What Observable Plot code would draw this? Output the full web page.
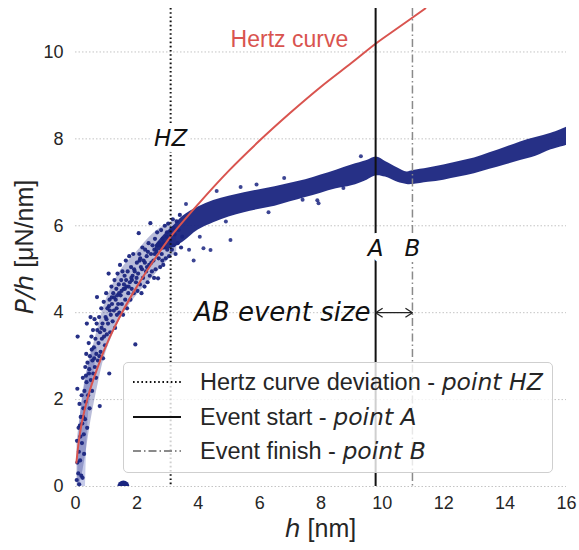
<!DOCTYPE html>
<html><head><meta charset="utf-8">
<script src="https://cdn.jsdelivr.net/npm/d3@7"></script>
<script src="https://cdn.jsdelivr.net/npm/@observablehq/plot@0.6"></script>
<style>
body{margin:0;background:#fff;}
#wrap{position:relative;width:579px;height:550px;}
#legend{position:absolute;left:123px;top:362px;width:430px;height:111px;border:1px solid #cfcfcf;border-radius:5px;background:rgba(255,255,255,0.8);font-family:"Liberation Sans",Arial,sans-serif;font-size:23.5px;color:#262626;box-sizing:border-box;}
.row{position:absolute;left:0;height:30px;display:flex;align-items:center;white-space:nowrap;}
.row svg{margin-left:9px;width:48px;height:10px;flex:none;}
.row span{margin-left:19px;}
.it{font-family:"DejaVu Sans";font-style:italic;}
</style></head><body><div id="wrap"></div>
<script>
// ---- data ----
const xTicks = [0, 2, 4, 6, 8, 10, 12, 14, 16];
const yTicks = [0, 2, 4, 6, 8, 10];

// Hertz curve (P/h vs h)
const hertzH = [0.03, 0.1, 0.2, 0.4, 0.7, 1, 1.5, 2, 2.5, 3.1, 4, 5, 6, 7, 8, 9, 9.8, 10.5, 11.4];
const hertzV = [0.55, 1.0, 1.45, 2.05, 2.7, 3.25, 3.98, 4.6, 5.15, 5.75, 6.5, 7.27, 7.96, 8.6, 9.2, 9.75, 10.2, 10.55, 11.0];

// dense measurement band (lower / upper edge)
const bandH  = [2.6, 2.9, 3.2, 3.5, 4.0, 4.5, 5.0, 5.5, 6.0, 6.5, 7.0, 7.5, 8.0, 8.5, 9.0, 9.5, 9.8, 10.1, 10.5, 10.8, 11.0, 11.5, 12.0, 12.5, 13.0, 13.5, 14.0, 14.5, 15.0, 15.5, 16.0];
const bandLo = [5.4, 5.45, 5.5, 5.62, 5.9, 6.07, 6.2, 6.3, 6.38, 6.45, 6.55, 6.65, 6.75, 6.85, 6.92, 7.05, 7.15, 7.12, 7.0, 6.95, 6.95, 7.0, 7.05, 7.12, 7.2, 7.3, 7.4, 7.5, 7.6, 7.75, 7.85];
const bandHi = [5.55, 5.8, 6.0, 6.22, 6.43, 6.58, 6.68, 6.76, 6.83, 6.9, 6.98, 7.06, 7.17, 7.28, 7.4, 7.5, 7.58, 7.48, 7.33, 7.24, 7.27, 7.33, 7.4, 7.48, 7.56, 7.68, 7.8, 7.93, 8.03, 8.13, 8.27];

// sparse early band
const sparseH  = [0.05, 0.15, 0.3, 0.5, 0.75, 1, 1.5, 2, 2.5, 3.0, 3.3];
const sparseLo = [0, 0.1, 0.6, 1.5, 2.4, 3.1, 3.9, 4.4, 4.8, 5.2, 5.4];
const sparseHi = [1.0, 1.6, 2.4, 3.0, 3.7, 4.3, 5.0, 5.4, 5.8, 6.05, 6.15];

// light confidence strip near the origin
const stripV  = [0, 1.6, 3.2];
const stripH1 = [0.07, 0.16, 0.52];
const stripH2 = [0.33, 0.42, 0.72];

// individual scatter points in the sparse region
const dotH = [0.04,0.06,0.05,0.07,0.06,0.09,0.11,0.1,0.13,0.12,0.15,0.16,0.17,0.19,0.2,0.21,0.22,0.23,0.24,0.26,0.27,0.28,0.29,0.31,0.32,0.33,0.35,0.36,0.37,0.38,0.39,0.41,0.43,0.44,0.46,0.47,0.49,0.5,0.52,0.54,0.55,0.57,0.58,0.6,0.62,0.63,0.65,0.67,0.68,0.7,0.71,0.73,0.75,0.77,0.79,0.8,0.82,0.84,0.86,0.88,0.9,0.92,0.94,0.96,0.98,1.0,1.02,1.04,1.06,1.08,1.1,1.11,1.13,1.15,1.17,1.19,1.21,1.23,1.25,1.27,1.29,1.31,1.33,1.35,1.37,1.39,1.41,1.43,1.45,1.47,1.49,1.51,1.53,1.55,1.57,1.6,1.62,1.64,1.66,1.68,1.7,1.72,1.75,1.77,1.79,1.81,1.83,1.86,1.88,1.9,1.93,1.95,1.97,2.0,2.02,2.04,2.06,2.08,2.1,2.13,2.15,2.18,2.2,2.22,2.25,2.27,2.3,2.32,2.35,2.38,2.4,2.42,2.44,2.46,2.49,2.51,2.54,2.56,2.59,2.61,2.64,2.66,2.69,2.71,2.74,2.76,2.79,2.81,2.84,2.86,2.89,2.91,2.94,2.96,2.99,3.02,3.05,3.08,3.11,3.14,3.17,3.2,3.23,3.26,3.3,3.33,3.36,3.4,3.44,3.48,
  0.14,0.25,0.34,0.45,0.53,0.61,0.69,0.78,0.85,0.93,1.01,1.09,1.18,1.26,1.34,1.42,1.5,1.58,1.65,1.73,1.82,1.91,1.99,2.09,2.17,2.26,2.36,2.47,2.57,2.68,2.78,2.88,2.98,3.09,3.19,1.12,1.36,1.61,1.84,2.11,2.33,2.58,2.83];
const dotV = [0.15,0.55,1.05,3.45,2.25,0.3,0.8,1.35,1.9,0.05,0.6,1.15,1.6,0.25,2.1,1.0,1.45,0.2,2.5,1.8,1.2,0.75,2.2,1.55,2.75,1.95,3.05,2.4,3.75,1.35,2.85,2.1,3.3,2.6,1.8,3.0,3.9,2.45,3.45,2.2,2.9,3.6,2.6,3.2,3.85,2.75,3.4,2.5,3.05,4.36,3.6,2.9,3.3,3.9,1.85,3.55,3.1,4.1,3.4,3.75,2.95,4.25,3.6,3.25,3.9,4.45,3.5,4.1,3.75,4.9,2.6,4.3,3.55,3.95,4.6,4.2,3.8,4.45,4.05,4.75,3.65,4.3,4.55,3.95,4.9,4.2,4.65,4.0,5.1,4.4,4.75,4.2,4.95,3.95,4.55,4.85,4.3,5.2,4.6,4.1,4.95,4.45,5.3,4.7,4.3,5.05,4.55,4.85,5.35,4.45,4.95,3.27,4.7,5.15,4.5,4.9,5.83,5.35,4.65,5.05,4.45,5.5,4.8,5.2,4.6,5.45,4.95,5.3,4.7,5.6,5.1,4.85,6.06,5.35,4.95,5.55,5.2,4.8,5.7,5.0,5.4,5.85,4.79,5.25,5.6,5.05,5.9,5.35,5.7,5.1,5.5,6.0,5.25,5.75,5.45,6.05,5.3,5.65,5.9,5.45,6.15,5.55,5.8,5.35,6.1,5.6,5.9,6.25,5.5,5.75,
  1.4,1.6,2.55,2.7,3.15,2.95,3.75,3.0,3.65,3.45,3.85,4.15,4.35,4.35,4.1,4.45,4.5,4.65,4.75,4.6,4.8,5.0,4.8,5.2,5.0,5.15,5.4,5.15,5.45,5.55,5.55,5.6,5.85,5.7,5.95,4.05,4.4,4.55,4.75,5.25,5.05,5.35,5.2];

// outliers around the dense band
const outH = [3.85, 4.17, 4.4, 5.05, 5.38, 6.29, 7.88, 7.92, 8.73, 3.6, 4.6, 3.7, 4.05, 4.9, 5.9, 6.8, 7.4, 9.3];
const outV = [5.2, 5.48, 5.44, 5.67, 6.89, 6.31, 6.59, 6.52, 6.87, 6.5, 6.8, 5.45, 5.75, 6.1, 6.95, 7.1, 6.6, 7.6];
// blob at the baseline
const blobH = [1.56];
const blobV = [0];

// event lines
const eventNames = ["HZ", "A", "B"];
const eventH = [3.1, 9.78, 10.98];
const eventLabelV = [8.0, 5.47, 5.47];
const arrowV = 4.0;

// ---- build tables ----
const navy = "#1a2580";
const hertz = hertzH.map((h, i) => ({h, v: hertzV[i]}));
const band = bandH.map((h, i) => ({h, lo: bandLo[i], hi: bandHi[i]}));
const sparse = sparseH.map((h, i) => ({h, lo: sparseLo[i], hi: sparseHi[i]}));
const strip = stripV.map((v, i) => ({v, h1: stripH1[i], h2: stripH2[i]}));
const dots = dotH.map((h, i) => ({h, v: dotV[i]}));
const outs = outH.map((h, i) => ({h, v: outV[i]}));
const blob = blobH.map((h, i) => ({h, v: blobV[i]}));
const events = eventNames.map((n, i) => ({n, h: eventH[i], v: eventLabelV[i]}));

function chevron(color) {
  const ns = "http://www.w3.org/2000/svg";
  const m = document.createElementNS(ns, "marker");
  m.setAttribute("viewBox", "-9 -6 11 12");
  m.setAttribute("markerWidth", 11);
  m.setAttribute("markerHeight", 12);
  m.setAttribute("markerUnits", "userSpaceOnUse");
  m.setAttribute("orient", "auto-start-reverse");
  m.setAttribute("fill", "none");
  m.setAttribute("stroke", color);
  m.setAttribute("stroke-width", 1.3);
  const p = document.createElementNS(ns, "path");
  p.setAttribute("d", "M-7,-4.5L0,0L-7,4.5");
  m.appendChild(p);
  return m;
}

const chart = Plot.plot({
  width: 579, height: 550,
  marginLeft: 75, marginRight: 13, marginTop: 8, marginBottom: 64,
  x: {domain: [0, 16]},
  y: {domain: [0, 11]},
  style: {fontFamily: "Liberation Sans, Arial, sans-serif", fontSize: "18px", color: "#262626", background: "white"},
  marks: [
    Plot.ruleY(yTicks, {stroke: "#c4c4c4", strokeWidth: 1, strokeDasharray: "1.5,2"}),
    Plot.axisY(yTicks, {tickSize: 0, tickPadding: 12, fontSize: 18, label: null}),
    Plot.axisX(xTicks, {tickSize: 0, tickPadding: 10, fontSize: 18, label: null}),
    Plot.areaX(strip, {y: "v", x1: "h1", x2: "h2", fill: "#c6cbea", curve: "catmull-rom"}),
    Plot.areaY(sparse, {x: "h", y1: "lo", y2: "hi", fill: navy, fillOpacity: 0.3, curve: "catmull-rom"}),
    Plot.dot(dots, {x: "h", y: "v", r: 2.1, fill: navy, fillOpacity: 0.95}),
    Plot.areaY(band, {x: "h", y1: "lo", y2: "hi", fill: navy, fillOpacity: 0.95, curve: "catmull-rom"}),
    Plot.dot(outs, {x: "h", y: "v", r: 2, fill: navy, fillOpacity: 0.85}),
    Plot.dot(blob, {x: "h", y: "v", r: 6, fill: navy, clip: true}),
    Plot.line(hertz, {x: "h", y: "v", stroke: "#d9544f", strokeWidth: 2, curve: "catmull-rom", clip: true}),
    Plot.ruleX([eventH[0]], {stroke: "#111", strokeWidth: 2, strokeDasharray: "1.6,2.6"}),
    Plot.ruleX([eventH[1]], {stroke: "#111", strokeWidth: 2}),
    Plot.ruleX([eventH[2]], {stroke: "#8a8a8a", strokeWidth: 1.5, strokeDasharray: "8,3,1.5,3"}),
    Plot.text(events, {x: "h", y: "v", text: "n", fontSize: 23, fontFamily: "DejaVu Sans", fontStyle: "italic", fill: "#111", stroke: "white", strokeWidth: 12}),
    Plot.text(["Hertz curve"], {x: 6.97, y: 10.28, text: d => d, fontSize: 23, fill: "#d9544f"}),
    Plot.text(["AB event size"], {x: eventH[1], y: arrowV, text: d => d, dx: -5, textAnchor: "end", fontSize: 26, fontFamily: "DejaVu Sans", fontStyle: "italic", fill: "#111"}),
    Plot.link([0], {x1: eventH[1], x2: eventH[2], y1: arrowV, y2: arrowV, stroke: "#222", strokeWidth: 1.3, markerStart: chevron, markerEnd: chevron})
  ]
});

const svg = d3.select(chart);
const xl = svg.append("text").attr("x", 320.5).attr("y", 537).attr("text-anchor", "middle").attr("font-size", 25).attr("fill", "#262626");
xl.append("tspan").attr("font-family", "DejaVu Sans").attr("font-style", "italic").text("h");
xl.append("tspan").text(" [nm]");
const yl = svg.append("text").attr("transform", "translate(33,247) rotate(-90)").attr("text-anchor", "middle").attr("font-size", 25).attr("fill", "#262626");
yl.append("tspan").attr("font-family", "DejaVu Sans").attr("font-style", "italic").text("P/h");
yl.append("tspan").text(" [μN/nm]");

const wrap = document.getElementById("wrap");
wrap.appendChild(chart);

// legend
const legendItems = [
  {plain: "Hertz curve deviation - ", ital: "point HZ", stroke: "#111", dash: "1.6,2.6", w: 2},
  {plain: "Event start - ", ital: "point A", stroke: "#111", dash: null, w: 2},
  {plain: "Event finish - ", ital: "point B", stroke: "#8a8a8a", dash: "8,3,1.5,3", w: 2}
];
const rowCenters = [19, 54, 88];
const leg = document.createElement("div");
leg.id = "legend";
legendItems.forEach((it, i) => {
  const row = document.createElement("div");
  row.className = "row";
  row.style.top = (rowCenters[i] - 15) + "px";
  row.innerHTML = `<svg viewBox="0 0 48 10"><line x1="0" y1="5" x2="48" y2="5" stroke="${it.stroke}" stroke-width="${it.w}" ${it.dash ? `stroke-dasharray="${it.dash}"` : ""}/></svg><span>${it.plain}<span class="it" style="margin-left:0">${it.ital}</span></span>`;
  leg.appendChild(row);
});
wrap.appendChild(leg);
</script>
</body></html>
